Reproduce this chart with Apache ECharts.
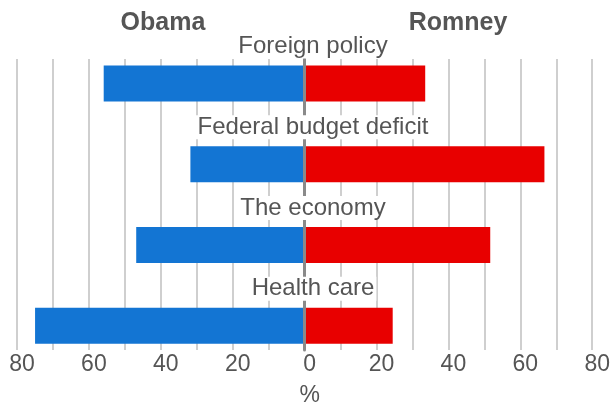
<!DOCTYPE html>
<html>
<head>
<meta charset="utf-8">
<script src="https://cdn.jsdelivr.net/npm/echarts@6/dist/echarts.min.js"></script>
<style>
  html, body { margin: 0; padding: 0; background: #fff; }
  #chart { width: 613px; height: 412px; }
</style>
</head>
<body>
<div id="chart"></div>
<script>
// Share of voters who trust each candidate more on an issue (%)
const categories = ['Foreign policy', 'Federal budget deficit', 'The economy', 'Health care'];
const candidates = ['Obama', 'Romney'];
const obama = [56, 32, 47, 75];
const romney = [33, 66, 51, 24];
const axisMin = -80;
const axisMax = 80;
const gridStep = 10;
const labelStep = 20;

const FONT = '"Liberation Sans", Arial, Helvetica, sans-serif';
const TEXT = '#555';
const BLUE = '#1375d3';
const RED = '#e80000';

const chart = echarts.init(document.getElementById('chart'), null, { renderer: 'canvas' });

chart.setOption({
  animation: false,
  backgroundColor: '#fff',
  textStyle: { fontFamily: FONT },
  graphic: [
    {
      type: 'text', x: 163, y: 11,
      style: { text: candidates[0], font: 'bold 25px ' + FONT, fill: TEXT, align: 'center', verticalAlign: 'top' }
    },
    {
      type: 'text', x: 458, y: 11,
      style: { text: candidates[1], font: 'bold 25px ' + FONT, fill: TEXT, align: 'center', verticalAlign: 'top' }
    }
  ],
  grid: [
    // grid lines, tick labels and the zero line
    { left: 17, right: 18, top: 59, bottom: 56 },
    // bars and issue labels
    { left: 17, right: 18, top: 43, bottom: 46 }
  ],
  xAxis: [
    {
      gridIndex: 0, type: 'value', min: axisMin, max: axisMax, interval: gridStep,
      axisLine: { show: false }, axisTick: { show: false },
      splitLine: { show: true, lineStyle: { color: '#cfcfcf', width: 2 } },
      axisLabel: {
        fontSize: 23, color: TEXT, margin: 3, padding: [0, 0, 0, 10],
        formatter: v => (v % labelStep === 0 ? String(Math.abs(v)) : '')
      },
      name: '%', nameLocation: 'middle', nameGap: 34,
      nameTextStyle: { fontSize: 23, color: TEXT, padding: [0, 0, 0, 10] }
    },
    {
      gridIndex: 1, type: 'value', min: axisMin, max: axisMax, show: false
    }
  ],
  yAxis: [
    {
      gridIndex: 0, type: 'value', min: 0, max: 1, z: 3,
      axisLine: { show: true, onZero: true, lineStyle: { color: '#8a8a8a', width: 3 } },
      axisTick: { show: false }, axisLabel: { show: false }, splitLine: { show: false }
    },
    {
      gridIndex: 1, type: 'category', data: categories, inverse: true, show: false
    }
  ],
  series: [
    {
      name: candidates[0], type: 'bar', xAxisIndex: 1, yAxisIndex: 1,
      data: obama.map(v => -v), barWidth: 36, barGap: '-100%', z: 2,
      itemStyle: { color: BLUE }
    },
    {
      name: candidates[1], type: 'bar', xAxisIndex: 1, yAxisIndex: 1,
      data: romney, barWidth: 36, barGap: '-100%', z: 2,
      itemStyle: { color: RED }
    },
    {
      type: 'scatter', xAxisIndex: 1, yAxisIndex: 1, z: 5, silent: true,
      symbolSize: 0,
      itemStyle: { opacity: 1 },
      data: categories.map((c, i) => [0, i]),
      label: {
        show: true, position: 'inside', offset: [7, -37],
        formatter: p => categories[p.dataIndex],
        fontSize: 24, color: TEXT, backgroundColor: '#fff', padding: [0, 2]
      }
    }
  ]
});
</script>
</body>
</html>
